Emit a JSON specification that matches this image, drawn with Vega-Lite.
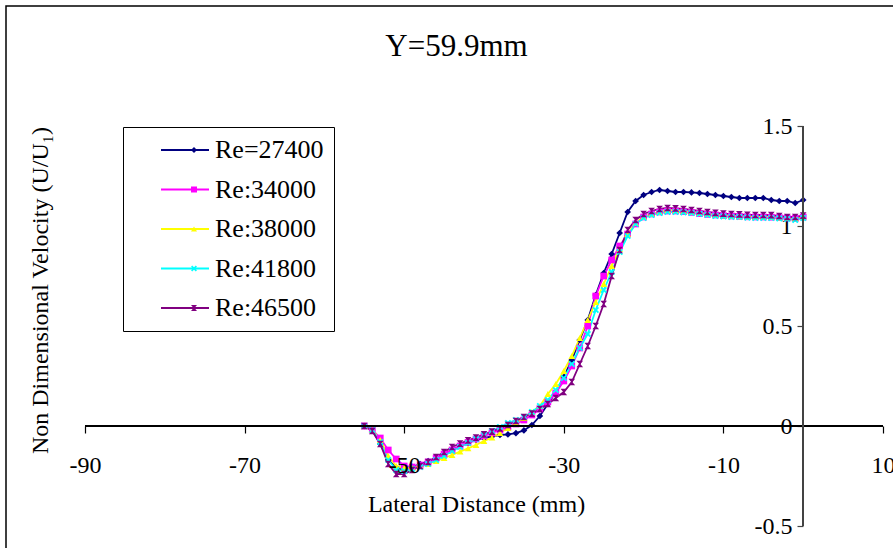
{
  "$schema": "https://vega.github.io/schema/vega-lite/v6.json",
  "width": 889,
  "height": 544,
  "autosize": "none",
  "padding": {"left": 6, "top": 6, "right": -2, "bottom": -2},
  "background": "white",
  "title": {"text": "Y=59.9mm", "font": "Liberation Serif", "fontSize": 31, "fontWeight": "normal", "color": "black", "anchor": "middle", "offset": -81, "baseline": "alphabetic", "dx": 6},
  "config": {"view": {"stroke": "black", "strokeWidth": 1.5}, "font": "Liberation Serif", "axis": {"grid": false}},
  "data": {"values": [
    {"x":-55,"y":0,"s":"Re=27400"},{"x":-54,"y":-0.02,"s":"Re=27400"},{"x":-53,"y":-0.09,"s":"Re=27400"},{"x":-52,"y":-0.17,"s":"Re=27400"},{"x":-51,"y":-0.21,"s":"Re=27400"},{"x":-50,"y":-0.22,"s":"Re=27400"},{"x":-49,"y":-0.205,"s":"Re=27400"},{"x":-48,"y":-0.19,"s":"Re=27400"},{"x":-47,"y":-0.175,"s":"Re=27400"},{"x":-46,"y":-0.16,"s":"Re=27400"},{"x":-45,"y":-0.14,"s":"Re=27400"},{"x":-44,"y":-0.12,"s":"Re=27400"},{"x":-43,"y":-0.1,"s":"Re=27400"},{"x":-42,"y":-0.085,"s":"Re=27400"},{"x":-41,"y":-0.07,"s":"Re=27400"},{"x":-40,"y":-0.06,"s":"Re=27400"},{"x":-39,"y":-0.052,"s":"Re=27400"},{"x":-38,"y":-0.045,"s":"Re=27400"},{"x":-37,"y":-0.042,"s":"Re=27400"},{"x":-36,"y":-0.036,"s":"Re=27400"},{"x":-35,"y":-0.022,"s":"Re=27400"},{"x":-34,"y":0.005,"s":"Re=27400"},{"x":-33,"y":0.05,"s":"Re=27400"},{"x":-32,"y":0.11,"s":"Re=27400"},{"x":-31,"y":0.17,"s":"Re=27400"},{"x":-30,"y":0.245,"s":"Re=27400"},{"x":-29,"y":0.33,"s":"Re=27400"},{"x":-28,"y":0.43,"s":"Re=27400"},{"x":-27,"y":0.53,"s":"Re=27400"},{"x":-26,"y":0.655,"s":"Re=27400"},{"x":-25,"y":0.765,"s":"Re=27400"},{"x":-24,"y":0.86,"s":"Re=27400"},{"x":-23,"y":0.965,"s":"Re=27400"},{"x":-22,"y":1.07,"s":"Re=27400"},{"x":-21,"y":1.125,"s":"Re=27400"},{"x":-20,"y":1.155,"s":"Re=27400"},{"x":-19,"y":1.17,"s":"Re=27400"},{"x":-18,"y":1.18,"s":"Re=27400"},{"x":-17,"y":1.175,"s":"Re=27400"},{"x":-16,"y":1.17,"s":"Re=27400"},{"x":-15,"y":1.17,"s":"Re=27400"},{"x":-14,"y":1.168,"s":"Re=27400"},{"x":-13,"y":1.165,"s":"Re=27400"},{"x":-12,"y":1.16,"s":"Re=27400"},{"x":-11,"y":1.155,"s":"Re=27400"},{"x":-10,"y":1.15,"s":"Re=27400"},{"x":-9,"y":1.145,"s":"Re=27400"},{"x":-8,"y":1.14,"s":"Re=27400"},{"x":-7,"y":1.14,"s":"Re=27400"},{"x":-6,"y":1.14,"s":"Re=27400"},{"x":-5,"y":1.14,"s":"Re=27400"},{"x":-4,"y":1.13,"s":"Re=27400"},{"x":-3,"y":1.125,"s":"Re=27400"},{"x":-2,"y":1.125,"s":"Re=27400"},{"x":-1,"y":1.115,"s":"Re=27400"},{"x":0,"y":1.13,"s":"Re=27400"},
    {"x":-55,"y":0,"s":"Re:34000"},{"x":-54,"y":-0.02,"s":"Re:34000"},{"x":-53,"y":-0.06,"s":"Re:34000"},{"x":-52,"y":-0.12,"s":"Re:34000"},{"x":-51,"y":-0.165,"s":"Re:34000"},{"x":-50,"y":-0.2,"s":"Re:34000"},{"x":-49,"y":-0.205,"s":"Re:34000"},{"x":-48,"y":-0.195,"s":"Re:34000"},{"x":-47,"y":-0.18,"s":"Re:34000"},{"x":-46,"y":-0.16,"s":"Re:34000"},{"x":-45,"y":-0.14,"s":"Re:34000"},{"x":-44,"y":-0.12,"s":"Re:34000"},{"x":-43,"y":-0.1,"s":"Re:34000"},{"x":-42,"y":-0.082,"s":"Re:34000"},{"x":-41,"y":-0.065,"s":"Re:34000"},{"x":-40,"y":-0.05,"s":"Re:34000"},{"x":-39,"y":-0.035,"s":"Re:34000"},{"x":-38,"y":-0.02,"s":"Re:34000"},{"x":-37,"y":-0.005,"s":"Re:34000"},{"x":-36,"y":0.01,"s":"Re:34000"},{"x":-35,"y":0.03,"s":"Re:34000"},{"x":-34,"y":0.055,"s":"Re:34000"},{"x":-33,"y":0.085,"s":"Re:34000"},{"x":-32,"y":0.12,"s":"Re:34000"},{"x":-31,"y":0.165,"s":"Re:34000"},{"x":-30,"y":0.225,"s":"Re:34000"},{"x":-29,"y":0.3,"s":"Re:34000"},{"x":-28,"y":0.39,"s":"Re:34000"},{"x":-27,"y":0.5,"s":"Re:34000"},{"x":-26,"y":0.65,"s":"Re:34000"},{"x":-25,"y":0.75,"s":"Re:34000"},{"x":-24,"y":0.83,"s":"Re:34000"},{"x":-23,"y":0.9,"s":"Re:34000"},{"x":-22,"y":0.96,"s":"Re:34000"},{"x":-21,"y":1.01,"s":"Re:34000"},{"x":-20,"y":1.045,"s":"Re:34000"},{"x":-19,"y":1.06,"s":"Re:34000"},{"x":-18,"y":1.07,"s":"Re:34000"},{"x":-17,"y":1.075,"s":"Re:34000"},{"x":-16,"y":1.075,"s":"Re:34000"},{"x":-15,"y":1.072,"s":"Re:34000"},{"x":-14,"y":1.068,"s":"Re:34000"},{"x":-13,"y":1.062,"s":"Re:34000"},{"x":-12,"y":1.058,"s":"Re:34000"},{"x":-11,"y":1.055,"s":"Re:34000"},{"x":-10,"y":1.052,"s":"Re:34000"},{"x":-9,"y":1.05,"s":"Re:34000"},{"x":-8,"y":1.048,"s":"Re:34000"},{"x":-7,"y":1.046,"s":"Re:34000"},{"x":-6,"y":1.045,"s":"Re:34000"},{"x":-5,"y":1.045,"s":"Re:34000"},{"x":-4,"y":1.044,"s":"Re:34000"},{"x":-3,"y":1.042,"s":"Re:34000"},{"x":-2,"y":1.04,"s":"Re:34000"},{"x":-1,"y":1.038,"s":"Re:34000"},{"x":0,"y":1.045,"s":"Re:34000"},
    {"x":-55,"y":0,"s":"Re:38000"},{"x":-54,"y":-0.02,"s":"Re:38000"},{"x":-53,"y":-0.07,"s":"Re:38000"},{"x":-52,"y":-0.15,"s":"Re:38000"},{"x":-51,"y":-0.2,"s":"Re:38000"},{"x":-50,"y":-0.21,"s":"Re:38000"},{"x":-49,"y":-0.21,"s":"Re:38000"},{"x":-48,"y":-0.2,"s":"Re:38000"},{"x":-47,"y":-0.19,"s":"Re:38000"},{"x":-46,"y":-0.175,"s":"Re:38000"},{"x":-45,"y":-0.16,"s":"Re:38000"},{"x":-44,"y":-0.145,"s":"Re:38000"},{"x":-43,"y":-0.128,"s":"Re:38000"},{"x":-42,"y":-0.112,"s":"Re:38000"},{"x":-41,"y":-0.095,"s":"Re:38000"},{"x":-40,"y":-0.075,"s":"Re:38000"},{"x":-39,"y":-0.058,"s":"Re:38000"},{"x":-38,"y":-0.035,"s":"Re:38000"},{"x":-37,"y":-0.01,"s":"Re:38000"},{"x":-36,"y":0.015,"s":"Re:38000"},{"x":-35,"y":0.04,"s":"Re:38000"},{"x":-34,"y":0.07,"s":"Re:38000"},{"x":-33,"y":0.1,"s":"Re:38000"},{"x":-32,"y":0.16,"s":"Re:38000"},{"x":-31,"y":0.21,"s":"Re:38000"},{"x":-30,"y":0.275,"s":"Re:38000"},{"x":-29,"y":0.35,"s":"Re:38000"},{"x":-28,"y":0.44,"s":"Re:38000"},{"x":-27,"y":0.53,"s":"Re:38000"},{"x":-26,"y":0.62,"s":"Re:38000"},{"x":-25,"y":0.71,"s":"Re:38000"},{"x":-24,"y":0.8,"s":"Re:38000"},{"x":-23,"y":0.885,"s":"Re:38000"},{"x":-22,"y":0.96,"s":"Re:38000"},{"x":-21,"y":1.015,"s":"Re:38000"},{"x":-20,"y":1.045,"s":"Re:38000"},{"x":-19,"y":1.06,"s":"Re:38000"},{"x":-18,"y":1.07,"s":"Re:38000"},{"x":-17,"y":1.08,"s":"Re:38000"},{"x":-16,"y":1.078,"s":"Re:38000"},{"x":-15,"y":1.075,"s":"Re:38000"},{"x":-14,"y":1.07,"s":"Re:38000"},{"x":-13,"y":1.065,"s":"Re:38000"},{"x":-12,"y":1.06,"s":"Re:38000"},{"x":-11,"y":1.055,"s":"Re:38000"},{"x":-10,"y":1.052,"s":"Re:38000"},{"x":-9,"y":1.05,"s":"Re:38000"},{"x":-8,"y":1.048,"s":"Re:38000"},{"x":-7,"y":1.046,"s":"Re:38000"},{"x":-6,"y":1.045,"s":"Re:38000"},{"x":-5,"y":1.045,"s":"Re:38000"},{"x":-4,"y":1.044,"s":"Re:38000"},{"x":-3,"y":1.042,"s":"Re:38000"},{"x":-2,"y":1.04,"s":"Re:38000"},{"x":-1,"y":1.038,"s":"Re:38000"},{"x":0,"y":1.045,"s":"Re:38000"},
    {"x":-55,"y":0,"s":"Re:41800"},{"x":-54,"y":-0.02,"s":"Re:41800"},{"x":-53,"y":-0.08,"s":"Re:41800"},{"x":-52,"y":-0.17,"s":"Re:41800"},{"x":-51,"y":-0.22,"s":"Re:41800"},{"x":-50,"y":-0.225,"s":"Re:41800"},{"x":-49,"y":-0.215,"s":"Re:41800"},{"x":-48,"y":-0.205,"s":"Re:41800"},{"x":-47,"y":-0.19,"s":"Re:41800"},{"x":-46,"y":-0.17,"s":"Re:41800"},{"x":-45,"y":-0.15,"s":"Re:41800"},{"x":-44,"y":-0.125,"s":"Re:41800"},{"x":-43,"y":-0.105,"s":"Re:41800"},{"x":-42,"y":-0.085,"s":"Re:41800"},{"x":-41,"y":-0.065,"s":"Re:41800"},{"x":-40,"y":-0.045,"s":"Re:41800"},{"x":-39,"y":-0.025,"s":"Re:41800"},{"x":-38,"y":-0.005,"s":"Re:41800"},{"x":-37,"y":0.015,"s":"Re:41800"},{"x":-36,"y":0.03,"s":"Re:41800"},{"x":-35,"y":0.045,"s":"Re:41800"},{"x":-34,"y":0.07,"s":"Re:41800"},{"x":-33,"y":0.1,"s":"Re:41800"},{"x":-32,"y":0.13,"s":"Re:41800"},{"x":-31,"y":0.18,"s":"Re:41800"},{"x":-30,"y":0.24,"s":"Re:41800"},{"x":-29,"y":0.31,"s":"Re:41800"},{"x":-28,"y":0.39,"s":"Re:41800"},{"x":-27,"y":0.46,"s":"Re:41800"},{"x":-26,"y":0.58,"s":"Re:41800"},{"x":-25,"y":0.68,"s":"Re:41800"},{"x":-24,"y":0.77,"s":"Re:41800"},{"x":-23,"y":0.87,"s":"Re:41800"},{"x":-22,"y":0.95,"s":"Re:41800"},{"x":-21,"y":1.01,"s":"Re:41800"},{"x":-20,"y":1.04,"s":"Re:41800"},{"x":-19,"y":1.055,"s":"Re:41800"},{"x":-18,"y":1.065,"s":"Re:41800"},{"x":-17,"y":1.07,"s":"Re:41800"},{"x":-16,"y":1.07,"s":"Re:41800"},{"x":-15,"y":1.068,"s":"Re:41800"},{"x":-14,"y":1.065,"s":"Re:41800"},{"x":-13,"y":1.06,"s":"Re:41800"},{"x":-12,"y":1.055,"s":"Re:41800"},{"x":-11,"y":1.05,"s":"Re:41800"},{"x":-10,"y":1.048,"s":"Re:41800"},{"x":-9,"y":1.045,"s":"Re:41800"},{"x":-8,"y":1.045,"s":"Re:41800"},{"x":-7,"y":1.042,"s":"Re:41800"},{"x":-6,"y":1.04,"s":"Re:41800"},{"x":-5,"y":1.04,"s":"Re:41800"},{"x":-4,"y":1.04,"s":"Re:41800"},{"x":-3,"y":1.038,"s":"Re:41800"},{"x":-2,"y":1.035,"s":"Re:41800"},{"x":-1,"y":1.03,"s":"Re:41800"},{"x":0,"y":1.04,"s":"Re:41800"},
    {"x":-55,"y":0,"s":"Re:46500"},{"x":-54,"y":-0.025,"s":"Re:46500"},{"x":-53,"y":-0.09,"s":"Re:46500"},{"x":-52,"y":-0.19,"s":"Re:46500"},{"x":-51,"y":-0.24,"s":"Re:46500"},{"x":-50,"y":-0.24,"s":"Re:46500"},{"x":-49,"y":-0.22,"s":"Re:46500"},{"x":-48,"y":-0.2,"s":"Re:46500"},{"x":-47,"y":-0.18,"s":"Re:46500"},{"x":-46,"y":-0.155,"s":"Re:46500"},{"x":-45,"y":-0.13,"s":"Re:46500"},{"x":-44,"y":-0.105,"s":"Re:46500"},{"x":-43,"y":-0.088,"s":"Re:46500"},{"x":-42,"y":-0.072,"s":"Re:46500"},{"x":-41,"y":-0.058,"s":"Re:46500"},{"x":-40,"y":-0.042,"s":"Re:46500"},{"x":-39,"y":-0.028,"s":"Re:46500"},{"x":-38,"y":-0.012,"s":"Re:46500"},{"x":-37,"y":0.005,"s":"Re:46500"},{"x":-36,"y":0.025,"s":"Re:46500"},{"x":-35,"y":0.045,"s":"Re:46500"},{"x":-34,"y":0.062,"s":"Re:46500"},{"x":-33,"y":0.085,"s":"Re:46500"},{"x":-32,"y":0.11,"s":"Re:46500"},{"x":-31,"y":0.14,"s":"Re:46500"},{"x":-30,"y":0.17,"s":"Re:46500"},{"x":-29,"y":0.22,"s":"Re:46500"},{"x":-28,"y":0.31,"s":"Re:46500"},{"x":-27,"y":0.4,"s":"Re:46500"},{"x":-26,"y":0.5,"s":"Re:46500"},{"x":-25,"y":0.61,"s":"Re:46500"},{"x":-24,"y":0.75,"s":"Re:46500"},{"x":-23,"y":0.88,"s":"Re:46500"},{"x":-22,"y":0.98,"s":"Re:46500"},{"x":-21,"y":1.03,"s":"Re:46500"},{"x":-20,"y":1.06,"s":"Re:46500"},{"x":-19,"y":1.075,"s":"Re:46500"},{"x":-18,"y":1.085,"s":"Re:46500"},{"x":-17,"y":1.09,"s":"Re:46500"},{"x":-16,"y":1.088,"s":"Re:46500"},{"x":-15,"y":1.085,"s":"Re:46500"},{"x":-14,"y":1.08,"s":"Re:46500"},{"x":-13,"y":1.075,"s":"Re:46500"},{"x":-12,"y":1.07,"s":"Re:46500"},{"x":-11,"y":1.066,"s":"Re:46500"},{"x":-10,"y":1.062,"s":"Re:46500"},{"x":-9,"y":1.06,"s":"Re:46500"},{"x":-8,"y":1.058,"s":"Re:46500"},{"x":-7,"y":1.056,"s":"Re:46500"},{"x":-6,"y":1.055,"s":"Re:46500"},{"x":-5,"y":1.055,"s":"Re:46500"},{"x":-4,"y":1.054,"s":"Re:46500"},{"x":-3,"y":1.05,"s":"Re:46500"},{"x":-2,"y":1.045,"s":"Re:46500"},{"x":-1,"y":1.045,"s":"Re:46500"},{"x":0,"y":1.052,"s":"Re:46500"}
  ]},
  "encoding": {
    "x": {"field": "x", "type": "quantitative", "scale": {"domain": [-99.9, 11.5033], "nice": false, "zero": false},
      "axis": {"values": [-90, -70, -50, -30, -10, 10], "offset": -124, "domain": false, "tickSize": 7, "tickColor": "black", "tickWidth": 1.2, "zindex": 1,
        "labelFont": "Liberation Serif", "labelFontSize": 24, "labelColor": "black", "labelPadding": 20, "labelFlush": false, "labelOverlap": false, "labelExpr": "datum.value + ''",
        "title": "Lateral Distance (mm)", "titleFont": "Liberation Serif", "titleFontSize": 24, "titleFontWeight": "normal", "titleColor": "black", "titleX": 470, "titleY": 78, "titleBaseline": "middle", "titleAlign": "center"}},
    "y": {"field": "y", "type": "quantitative", "scale": {"domain": [-0.62, 2.1], "nice": false, "zero": false},
      "axis": {"values": [-0.5, 0, 0.5, 1, 1.5], "offset": -797, "domain": false, "tickSize": 6, "tickColor": "#444444", "tickWidth": 1.2,
        "labelFont": "Liberation Serif", "labelFontSize": 24, "labelColor": "black", "labelPadding": 5, "labelFlush": false, "labelOverlap": false, "labelExpr": "datum.value + ''",
        "title": "Non Dimensional Velocity (U/U₁)", "titleFont": "Liberation Serif", "titleFontSize": 24, "titleFontWeight": "normal", "titleColor": "black", "titleX": -763, "titleY": 284, "titleBaseline": "middle", "titleAlign": "center", "titleAngle": -90}}
  },
  "layer": [
    {
      "mark": {"type": "line", "strokeWidth": 1.8},
      "encoding": {
        "color": {"field": "s", "type": "nominal",
          "scale": {"domain": ["Re=27400", "Re:34000", "Re:38000", "Re:41800", "Re:46500"], "range": ["#000080", "#FF00FF", "#FFFF00", "#00FFFF", "#800080"]},
          "legend": {"orient": "none", "legendX": 117, "legendY": 121, "title": null, "padding": 10, "strokeColor": "black",
            "symbolType": "M-2,0H2", "symbolSize": 576, "symbolStrokeWidth": 2, "symbolOffset": 39, "labelOffset": 17,
            "labelFont": "Liberation Serif", "labelFontSize": 26, "labelColor": "black", "rowPadding": 13.5, "labelExpr": "datum.label + '\u00a0\u00a0\u00a0\u00a0'"}}
      }
    },
    {
      "mark": {"type": "point", "filled": true, "size": 45, "opacity": 1},
      "encoding": {
        "fill": {"field": "s", "type": "nominal",
          "scale": {"domain": ["Re:34000", "Re:38000", "Re:41800", "Re:46500", "Re=27400"], "range": ["#FF00FF", "#FFFF00", "#00FFFF", "#800080", "#000080"]},
          "legend": {"orient": "none", "legendX": 117, "legendY": 121, "title": null, "padding": 10, "values": ["Re=27400", "Re:34000", "Re:38000", "Re:41800", "Re:46500"],
            "symbolSize": 36, "symbolOffset": 48, "symbolStrokeWidth": 0, "labelFont": "Liberation Serif", "labelFontSize": 26, "labelExpr": "''", "rowPadding": 13.5}},
        "shape": {"field": "s", "type": "nominal",
          "scale": {"domain": ["Re:34000", "Re:38000", "Re:41800", "Re:46500", "Re=27400"], "range": ["square", "triangle-up", "M-1,-0.6L-0.6,-1L0,-0.4L0.6,-1L1,-0.6L0.4,0L1,0.6L0.6,1L0,0.4L-0.6,1L-1,0.6L-0.4,0Z", "M-1,-1L1,-1L0.15,0L1,1L-1,1L-0.15,0Z", "diamond"]},
          "legend": {"orient": "none", "legendX": 117, "legendY": 121, "title": null, "padding": 10, "values": ["Re=27400", "Re:34000", "Re:38000", "Re:41800", "Re:46500"],
            "symbolSize": 36, "symbolOffset": 48, "symbolStrokeWidth": 0, "labelFont": "Liberation Serif", "labelFontSize": 26, "labelExpr": "''", "rowPadding": 13.5}}
      }
    },
    {
      "mark": {"type": "rule", "color": "black", "strokeWidth": 1.3},
      "encoding": {
        "x": {"datum": -90, "type": "quantitative"},
        "x2": {"datum": 10},
        "y": {"datum": 0, "type": "quantitative"}
      }
    },
    {
      "mark": {"type": "rule", "color": "#444444", "strokeWidth": 1.2},
      "encoding": {
        "x": {"datum": 0, "type": "quantitative"},
        "y": {"datum": -0.5, "type": "quantitative"},
        "y2": {"datum": 1.5}
      }
    }
  ]
}
